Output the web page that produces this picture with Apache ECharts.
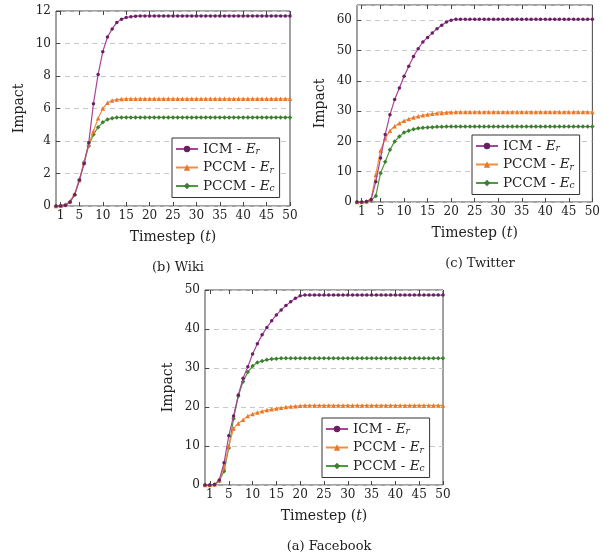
<!DOCTYPE html>
<html>
<head>
<meta charset="utf-8">
<script src="https://cdn.jsdelivr.net/npm/echarts@6/dist/echarts.min.js"></script>
<style>
  html, body { margin: 0; padding: 0; background: #fff; }
  #chart { width: 603px; height: 556px; }
</style>
</head>
<body>
<div id="chart"></div>
<script>
// timesteps 0..50
const timesteps = [];
for (let t = 0; t <= 50; t++) timesteps.push(t);
const xTickLabels = [1, 5, 10, 15, 20, 25, 30, 35, 40, 45, 50];
const seriesNames = ["ICM - Er", "PCCM - Er", "PCCM - Ec"];

// values for t = 0..20; the curves stay flat after that
const wikiIcmHead   = [0, 0.02, 0.05, 0.25, 0.7, 1.6, 2.6, 3.9, 6.3, 8.1, 9.5, 10.4, 10.9, 11.3, 11.5, 11.6, 11.65, 11.68, 11.7, 11.7, 11.7];
const wikiIcmTail   = 11.7;
const wikiErHead    = [0, 0.02, 0.08, 0.3, 0.75, 1.6, 2.7, 3.8, 4.6, 5.4, 6.0, 6.35, 6.5, 6.55, 6.58, 6.6, 6.6, 6.6, 6.6, 6.6, 6.6];
const wikiErTail    = 6.6;
const wikiEcHead    = [0, 0.0, 0.05, 0.25, 0.7, 1.6, 2.7, 3.7, 4.4, 4.85, 5.15, 5.33, 5.4, 5.44, 5.45, 5.45, 5.45, 5.45, 5.45, 5.45, 5.45];
const wikiEcTail    = 5.45;

const twitterIcmHead = [0, 0, 0.2, 0.8, 6.7, 14.5, 22.3, 28.8, 33.8, 37.6, 41.5, 44.8, 48.0, 50.6, 52.8, 54.3, 55.8, 57.2, 58.3, 59.4, 60.0];
const twitterIcmTail = 60.3;
const twitterErHead  = [0, 0, 0.2, 1.0, 9.0, 17.0, 21.0, 23.5, 25.0, 26.0, 26.8, 27.4, 27.9, 28.3, 28.6, 28.9, 29.1, 29.3, 29.4, 29.5, 29.6];
const twitterErTail  = 29.7;
const twitterEcHead  = [0, 0, 0.1, 0.5, 2.0, 9.5, 13.3, 17.2, 20.0, 21.6, 22.9, 23.5, 24.0, 24.3, 24.5, 24.6, 24.7, 24.8, 24.8, 24.9, 24.9];
const twitterEcTail  = 24.9;

const facebookIcmHead = [0, 0, 0.1, 1.3, 5.7, 12.6, 17.7, 23.1, 27.4, 30.3, 33.6, 36.2, 38.5, 40.4, 42.1, 43.6, 44.9, 46.0, 47.0, 47.9, 48.5];
const facebookIcmTail = 48.7;
const facebookErHead  = [0, 0, 0.1, 1.2, 4.5, 10.0, 14.5, 15.8, 16.7, 17.7, 18.2, 18.6, 18.9, 19.2, 19.4, 19.6, 19.8, 20.0, 20.1, 20.2, 20.3];
const facebookErTail  = 20.4;
const facebookEcHead  = [0, 0, 0.1, 1.0, 3.5, 9.5, 17.0, 22.8, 26.5, 29.0, 30.5, 31.4, 31.8, 32.1, 32.3, 32.4, 32.5, 32.5, 32.5, 32.5, 32.5];
const facebookEcTail  = 32.5;

function full(head, tail) {
  return timesteps.map(t => [t, t < head.length ? head[t] : tail]);
}

const colors = ["#a8449a", "#f28f3b", "#4e9a3e"];
const symbols = ["circle", "triangle", "diamond"];
const symbolColors = ["#6a1f63", "#e8792a", "#3d7f30"];
const serifFont = "DejaVu Serif";

const panels = [
  { caption: "(b) Wiki", left: 56, top: 11, width: 234, height: 195, max: 12, interval: 2,
    data: [full(wikiIcmHead, wikiIcmTail), full(wikiErHead, wikiErTail), full(wikiEcHead, wikiEcTail)],
    legend: { left: 172, top: 138 } },
  { caption: "(c) Twitter", left: 357, top: 5, width: 236, height: 197, max: 65, interval: 10,
    data: [full(twitterIcmHead, twitterIcmTail), full(twitterErHead, twitterErTail), full(twitterEcHead, twitterEcTail)],
    legend: { left: 472, top: 135 } },
  { caption: "(a) Facebook", left: 205, top: 290, width: 238, height: 195, max: 50, interval: 10,
    data: [full(facebookIcmHead, facebookIcmTail), full(facebookErHead, facebookErTail), full(facebookEcHead, facebookEcTail)],
    legend: { left: 322, top: 418 } }
];

const chart = echarts.init(document.getElementById("chart"));
const option = {
  animation: false,
  backgroundColor: "#fff",
  textStyle: { fontFamily: serifFont },
  grid: [], xAxis: [], yAxis: [], series: [], legend: [], title: []
};

panels.forEach(function (p, i) {
  option.grid.push({
    left: p.left, top: p.top, width: p.width, height: p.height,
    show: true, borderColor: "#444", borderWidth: 1, backgroundColor: "transparent"
  });
  option.xAxis.push({
    type: "value", gridIndex: i, min: 0, max: 50,
    name: "{a|Timestep (}{t|t}{a|)}", nameLocation: "middle", nameGap: 24,
    nameTextStyle: { rich: {
      a: { fontFamily: serifFont, fontSize: 14, color: "#222" },
      t: { fontFamily: serifFont, fontSize: 14, fontStyle: "italic", color: "#222" }
    } },
    axisLine: { show: false },
    axisTick: { show: true, inside: true, length: 4, customValues: xTickLabels, lineStyle: { color: "#444" } },
    axisLabel: { customValues: xTickLabels, fontFamily: serifFont, fontSize: 12, color: "#222", margin: 4 },
    splitLine: { show: false }
  });
  option.xAxis.push({
    type: "value", gridIndex: i, min: 0, max: 50, position: "top",
    axisLine: { show: false },
    axisTick: { show: true, inside: true, length: 4, customValues: xTickLabels, lineStyle: { color: "#444" } },
    axisLabel: { show: false }, splitLine: { show: false }
  });
  option.yAxis.push({
    type: "value", gridIndex: i, min: 0, max: p.max, interval: p.interval,
    name: "Impact", nameLocation: "middle", nameRotate: 90, nameGap: 30,
    nameTextStyle: { fontFamily: serifFont, fontSize: 14, color: "#222" },
    axisLine: { show: false },
    axisTick: { show: true, inside: true, length: 4, lineStyle: { color: "#444" } },
    axisLabel: { fontFamily: serifFont, fontSize: 12, color: "#222", margin: 5, showMaxLabel: p.max % p.interval === 0 },
    splitLine: { show: true, lineStyle: { color: "#c8c8c8", type: [5, 4], width: 1 } }
  });
  seriesNames.forEach(function (name, k) {
    option.series.push({
      type: "line", name: name, xAxisIndex: i * 2, yAxisIndex: i,
      data: p.data[k], symbol: symbols[k], symbolSize: k === 0 ? 3.5 : 4.5,
      lineStyle: { color: colors[k], width: 1.2 },
      itemStyle: { color: symbolColors[k], borderWidth: 0 },
      z: 3 - k
    });
  });
  option.legend.push({
    left: p.legend.left, top: p.legend.top, orient: "vertical",
    data: seriesNames, itemWidth: 22, itemHeight: 8, itemGap: 4,
    padding: [4, 5, 4, 3],
    backgroundColor: "#fff", borderColor: "#333", borderWidth: 1, borderRadius: 0,
    selectedMode: false,
    formatter: function (name) {
      const base = name.slice(0, -2);
      const sub = name.slice(-1);
      return "{n|" + base + "}{e|E}{s|" + sub + "}";
    },
    textStyle: { rich: {
      n: { fontFamily: serifFont, fontSize: 13.5, color: "#222" },
      e: { fontFamily: serifFont, fontSize: 13.5, fontStyle: "italic", color: "#222" },
      s: { fontFamily: serifFont, fontSize: 9, fontStyle: "italic", color: "#222", padding: [6, 0, 0, 0] }
    } }
  });
  option.title.push({
    text: p.caption, left: p.left + p.width / 2, top: p.top + p.height + 50,
    textAlign: "center",
    textStyle: { fontFamily: serifFont, fontSize: 13, fontWeight: "normal", color: "#222" }
  });
});

chart.setOption(option);
</script>
</body>
</html>
